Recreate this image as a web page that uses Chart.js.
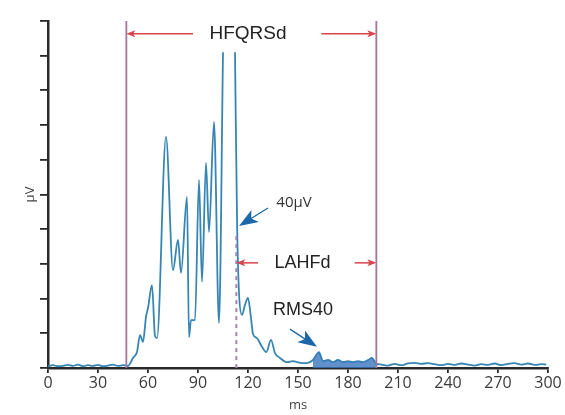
<!DOCTYPE html>
<html lang="en">
<head>
    <meta charset="UTF-8">
    <title>Signal-averaged ECG</title>
    <script src="https://cdn.jsdelivr.net/npm/chart.js"></script>
    <style>
        body { margin: 0; background: #fff; }
        canvas { display: block; }
    </style>
</head>
<body>
    <canvas id="saecg" width="565" height="415"></canvas>

    <script>
        // filtered QRS signal, time in ms and amplitude in µV
        var timeMs = [0, 3, 6, 9, 12, 15, 18, 21, 24, 27, 30, 33, 36, 39, 42, 45, 47,
            48, 51, 53.4, 55.2, 57, 58.8, 60, 62.4, 64.2, 65.4, 70.8, 75, 78, 79.8, 83.4, 84.6, 85.8, 88.2,
            90.6, 92.4, 94.8, 96.6, 99.6, 102.6, 105, 108.6, 112.2, 113.5, 116.4, 118.2, 120, 121.8, 123,
            125.4, 128.4, 131, 133.8, 136.2, 139.2, 143.4, 147, 149.4, 152.4, 155.4, 159, 162.6, 165, 168,
            171, 174, 177, 180, 183, 186, 189, 192, 194.4, 197,
            200, 204, 208, 212, 216, 220, 224, 228, 232, 236, 240, 244, 248, 252, 256, 260, 264, 268, 272,
            276, 280, 284, 288, 292, 296, 299];
        var amplitude = [0.5, 0.8, 0.5, 0.6, 0.9, 0.6, 1.0, 0.5, 0.8, 0.6, 0.9, 0.5, 0.7, 1.0, 0.6, 0.8, 0.7,
            0.6, 2.9, 4.6, 9.5, 7.5, 14.7, 17.3, 23.9, 9.2, 8.6, 66.6, 28.2, 36.9, 27.4, 49.3, 8.9, 13.8, 13.8,
            54.2, 24.8, 59.1, 39.2, 70.9, 13.0, 91, null, 91, 40, 15.3, 18.2, 20.2, 14.4, 9.8,
            8.6, 6.1, 4.6, 8.1, 4.3, 2.9, 1.7, 2.0, 1.7, 1.4, 1.4, 2.3, 4.6, 2.0, 2.3,
            1.7, 2.3, 1.7, 2.0, 1.7, 2.0, 1.7, 2.3, 2.9, 1.2,
            1.0, 0.7, 1.2, 0.8, 1.3, 1.5, 1.2, 1.4, 1.1, 0.8, 1.2, 0.9, 1.3, 1.0, 0.7, 1.1, 0.9, 1.3, 0.8,
            1.2, 1.4, 1.0, 1.3, 0.9, 1.1, 1.0];
        var xTicks = [0, 30, 60, 90, 120, 150, 180, 210, 240, 270, 300];

        // measurement markers (ms)
        var qrsOnset = 47;
        var qrsOffset = 197;
        var lahfStart = 113;
        var rmsStart = 158;
        var threshold = 40; // µV

        var signal = timeMs.map(function (t, i) { return { x: t, y: amplitude[i] }; });
        var rmsArea = signal.filter(function (p) { return p.x >= rmsStart && p.x <= qrsOffset; });

        function arrow(ctx, x1, y1, x2, y2, len, half, color, width) {
            var a = Math.atan2(y2 - y1, x2 - x1);
            ctx.strokeStyle = color;
            ctx.fillStyle = color;
            ctx.lineWidth = width;
            ctx.beginPath();
            ctx.moveTo(x1, y1);
            ctx.lineTo(x2 - Math.cos(a) * len * 0.6, y2 - Math.sin(a) * len * 0.6);
            ctx.stroke();
            ctx.beginPath();
            ctx.moveTo(x2, y2);
            ctx.lineTo(x2 - Math.cos(a) * len + Math.sin(a) * half, y2 - Math.sin(a) * len - Math.cos(a) * half);
            ctx.lineTo(x2 - Math.cos(a) * len * 0.75, y2 - Math.sin(a) * len * 0.75);
            ctx.lineTo(x2 - Math.cos(a) * len - Math.sin(a) * half, y2 - Math.sin(a) * len + Math.cos(a) * half);
            ctx.closePath();
            ctx.fill();
        }

        var annotations = {
            id: 'annotations',
            afterDatasetsDraw: function (chart) {
                var ctx = chart.ctx;
                var xs = chart.scales.x, ys = chart.scales.y;
                var X = function (v) { return xs.getPixelForValue(v); };
                var Y = function (v) { return ys.getPixelForValue(v); };
                ctx.save();

                // QRS onset / offset lines
                ctx.strokeStyle = '#a4769c';
                ctx.lineWidth = 1.8;
                [qrsOnset, qrsOffset].forEach(function (t) {
                    ctx.beginPath();
                    ctx.moveTo(X(t), Y(100));
                    ctx.lineTo(X(t), Y(0));
                    ctx.stroke();
                });

                // 40 µV dashed line
                ctx.strokeStyle = '#a283b4';
                ctx.lineWidth = 2;
                ctx.setLineDash([4, 4]);
                ctx.beginPath();
                ctx.moveTo(X(lahfStart), Y(38));
                ctx.lineTo(X(lahfStart), Y(0));
                ctx.stroke();
                ctx.setLineDash([]);

                // duration arrows
                var red = '#d9434a';
                arrow(ctx, X(87), Y(96.3), X(qrsOnset), Y(96.3), 9, 3.5, red, 1.5);
                arrow(ctx, X(164), Y(96.3), X(qrsOffset), Y(96.3), 9, 3.5, red, 1.5);
                arrow(ctx, X(126), Y(30.3), X(lahfStart), Y(30.3), 9, 3.5, red, 1.5);
                arrow(ctx, X(184), Y(30.3), X(qrsOffset), Y(30.3), 9, 3.5, red, 1.5);

                // pointer arrows
                var blue = '#1a67aa';
                arrow(ctx, X(132), Y(46.1), X(114.6), Y(threshold + 0.9), 19, 7, blue, 1.3);
                arrow(ctx, X(145.2), Y(11.2), X(161.4), Y(6.1), 19, 7, blue, 1.3);

                // labels
                ctx.fillStyle = '#222';
                ctx.textAlign = 'center';
                ctx.textBaseline = 'middle';
                ctx.font = '19px "Liberation Sans", Arial, sans-serif';
                ctx.fillText('HFQRSd', X(120), Y(96.3));
                ctx.font = '18px "Liberation Sans", Arial, sans-serif';
                ctx.fillText('LAHFd', X(152.7), Y(30.3));
                ctx.fillText('RMS40', X(153), Y(16.7));
                ctx.fillStyle = '#333';
                ctx.font = '15px "Open Sans", sans-serif';
                ctx.fillText('40μV', X(147.6), Y(47.6));

                ctx.restore();
            }
        };

        var ctx = document.getElementById('saecg').getContext('2d');
        new Chart(ctx, {
            type: 'line',
            data: {
                datasets: [{
                    data: rmsArea,
                    fill: 'origin',
                    backgroundColor: 'rgba(56,118,190,0.8)',
                    borderWidth: 0,
                    pointRadius: 0,
                    cubicInterpolationMode: 'monotone'
                }, {
                    data: signal,
                    fill: false,
                    borderColor: '#3785b3',
                    borderWidth: 1.8,
                    pointRadius: 0,
                    spanGaps: false,
                    cubicInterpolationMode: 'monotone'
                }]
            },
            options: {
                responsive: false,
                animation: false,
                layout: { padding: { top: 21, right: 17, left: 0, bottom: 0 } },
                plugins: { legend: { display: false }, tooltip: { enabled: false } },
                scales: {
                    x: {
                        type: 'linear',
                        min: 0,
                        max: 300,
                        afterBuildTicks: function (s) { s.ticks = xTicks.map(function (v) { return { value: v }; }); },
                        afterFit: function (s) { s.height = 47; },
                        ticks: { color: '#3a3a3a', padding: 1, font: { family: 'Open Sans', size: 16 } },
                        grid: { drawOnChartArea: false, drawTicks: true, tickLength: 5, color: '#2a2a2a', lineWidth: 1.8 },
                        border: { color: '#2a2a2a', width: 2.5 },
                        title: { display: true, text: 'ms', color: '#444', padding: { top: 0, bottom: 2 }, font: { family: 'Open Sans', size: 13 } }
                    },
                    y: {
                        min: 0,
                        max: 100,
                        afterFit: function (s) { s.width = 48; },
                        ticks: { stepSize: 10, callback: function () { return ''; } },
                        grid: { drawOnChartArea: false, drawTicks: true, tickLength: 8, color: '#2a2a2a', lineWidth: 1.8 },
                        border: { color: '#2a2a2a', width: 2.5 },
                        title: { display: true, text: 'μV', color: '#444', padding: { top: 22, bottom: 0 }, font: { family: 'Open Sans', size: 13 } }
                    }
                }
            },
            plugins: [annotations]
        });
    </script>
</body>
</html>
